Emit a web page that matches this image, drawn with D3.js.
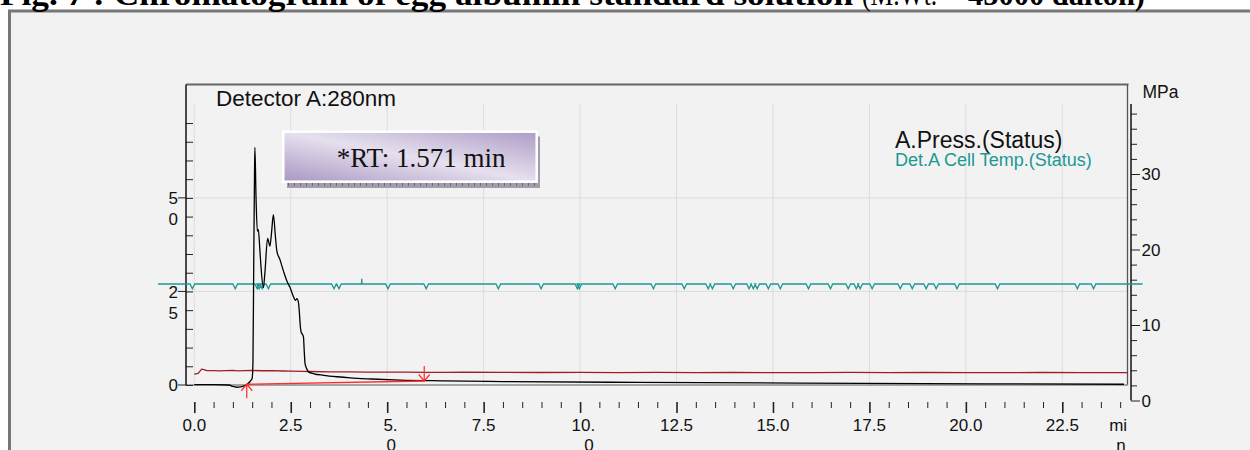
<!DOCTYPE html>
<html>
<head>
<meta charset="utf-8">
<script src="https://cdn.jsdelivr.net/npm/d3@7"></script>
<style>
  body { margin: 0; background: #fff; }
  svg { display: block; }
  text { font-family: "Liberation Sans", Arial, sans-serif; }
</style>
</head>
<body>
<div id="chart"></div>
<script>
// ===== 데이터 =====
// 제목 (굵게 / 보통 / 굵게)
const titleParts = ['Fig. 7 : Chromatogram of egg albumin standard solution', '(M.Wt. =', '45000 dalton)'];
const titleWeights = ['bold', 'normal', 'bold'];

// 검출기 신호 (min, mV)
const detTime = [0.0, 0.5, 0.9, 1.0, 1.1, 1.2, 1.3, 1.36, 1.45, 1.5, 1.52, 1.54, 1.56, 1.571, 1.60, 1.634, 1.66,
  1.70, 1.73, 1.79, 1.83, 1.90, 1.96, 2.00, 2.05, 2.10, 2.14, 2.22, 2.31, 2.40, 2.48, 2.57, 2.62, 2.66, 2.70,
  2.72, 2.75, 2.77, 2.80, 2.83, 2.85, 2.87, 2.92, 2.96, 3.10, 3.35, 3.70, 4.04, 4.60, 5.33, 6.50, 8.0, 11.5,
  15.7, 20.5, 24.1];
const detMv = [0.1, 0.1, 0.0, -0.4, -0.6, -0.5, -0.2, 0.1, 1.0, 1.8, 6, 32, 56, 63.5, 50, 41.1, 41.5,
  36, 31.4, 26.0, 30, 39.2, 37.1, 40.5, 45.5, 40, 35.8, 33.5, 30.5, 27.8, 26.1, 23.6, 22.6, 23.1, 22.0,
  19.9, 15.5, 14.1, 13.6, 12.8, 9.0, 5.8, 4.2, 3.5, 3.0, 2.6, 2.2, 1.9, 1.6, 1.3, 1.1, 0.9, 0.7,
  0.5, 0.3, 0.2];

// 압력 (min, MPa)
const pressTime = [0.0, 0.1, 0.19, 0.25, 0.32, 0.5, 0.65, 0.8, 1.0, 1.15, 1.3, 1.5, 1.75, 2.0, 2.3, 2.5, 2.8,
  3.0, 3.5, 4.0, 4.5, 5.0, 5.5, 6.0, 6.5, 7.0, 8.0, 9.0, 10.0, 11.0, 12.0, 13.0, 14.0, 15.0, 16.0, 17.0,
  18.0, 19.0, 20.0, 21.0, 22.0, 23.0, 24.19];
const pressMpa = [3.5, 3.6, 4.15, 4.1, 3.95, 3.97, 3.92, 3.96, 3.98, 3.93, 3.97, 3.98, 3.94, 3.95, 3.91, 3.9, 3.86,
  3.84, 3.8, 3.78, 3.77, 3.75, 3.76, 3.73, 3.72, 3.74, 3.73, 3.71, 3.72, 3.7, 3.72, 3.7, 3.71, 3.69, 3.7, 3.72,
  3.7, 3.71, 3.7, 3.69, 3.71, 3.7, 3.7];

// 셀 온도 (오른쪽 축 기준) 와 스파이크 위치 (min)
const tempRange = [-0.94, 24.58];
const tempLevel = 15.43;
const tempSpikesDown = [-0.05, 1.06, 1.63, 1.68, 1.76, 1.92, 3.62, 3.75, 5.02, 6.01, 7.88, 8.99, 9.93, 9.98,
  10.91, 11.9, 12.7, 13.32, 13.43, 13.97, 14.38, 14.49, 14.59, 14.88, 15.19, 15.92, 16.49, 16.95, 17.16,
  17.26, 17.57, 18.3, 18.61, 18.97, 19.23, 19.77, 20.82, 22.89, 23.31];
const tempSpikesUp = [4.34];

// 적분 베이스라인 (min, mV)
const integStart = [1.36, 0.2];
const integEnd = [5.96, 1.07];
const peakRT = '*RT: 1.571 min';

// 축 눈금
const xMajorTicks = [0, 2.5, 5, 7.5, 10, 12.5, 15, 17.5, 20, 22.5];
const xTickLabels = ['0.0', '2.5', '5.\n0', '7.5', '10.\n0', '12.5', '15.0', '17.5', '20.0', '22.5'];
const xUnitLabel = 'mi\nn';
const leftLabelValues = [0, 25, 50];
const leftLabelText = ['0', '2\n5', '5\n0'];
const rightLabelValues = [0, 10, 20, 30];
const detectorLabel = 'Detector A:280nm';
const legendLabels = ['A.Press.(Status)', 'Det.A Cell Temp.(Status)'];

// ===== 렌더링 =====
const W = 1250, H = 450;
const svg = d3.select('#chart').append('svg').attr('width', W).attr('height', H);
const defs = svg.append('defs');

// 상자 그라디언트
const grad = defs.append('linearGradient').attr('id', 'rtGrad')
  .attr('x1', '0').attr('y1', '1').attr('x2', '1').attr('y2', '0');
grad.append('stop').attr('offset', '0%').attr('stop-color', '#a996c2');
grad.append('stop').attr('offset', '50%').attr('stop-color', '#e6e0ee');
grad.append('stop').attr('offset', '100%').attr('stop-color', '#ad9cc6');

// 그림자 패턴
const pat = defs.append('pattern').attr('id', 'shadowPat').attr('patternUnits', 'userSpaceOnUse')
  .attr('width', 6).attr('height', 7);
pat.append('rect').attr('width', 6).attr('height', 7).attr('fill', '#a39caa');
pat.append('line').attr('x1', 0.5).attr('x2', 0.5).attr('y1', 0).attr('y2', 4).attr('stroke', '#6e6774');

// 바깥 프레임
svg.append('rect').attr('x', 9.5).attr('y', 11).attr('width', W).attr('height', H)
  .attr('fill', '#f2f2f2').attr('stroke', '#777').attr('stroke-width', 3);

// 제목 (위쪽이 잘려 보임)
const title = svg.append('text').attr('y', 4.5)
  .style('font-family', '"Liberation Serif", "Times New Roman", serif').attr('font-size', 32).attr('fill', '#000');
title.append('tspan').attr('x', 0).attr('font-weight', titleWeights[0])
  .attr('textLength', 853).attr('lengthAdjust', 'spacingAndGlyphs').text(titleParts[0]);
title.append('tspan').attr('x', 862).attr('font-weight', titleWeights[1])
  .attr('textLength', 96).attr('lengthAdjust', 'spacingAndGlyphs').text(titleParts[1]);
title.append('tspan').attr('x', 968).attr('font-weight', titleWeights[2])
  .attr('textLength', 177).attr('lengthAdjust', 'spacingAndGlyphs').text(titleParts[2]);

// 스케일
const x = d3.scaleLinear().domain([-0.2153, 24.19]).range([186, 1127.5]);
const yL = d3.scaleLinear().domain([0, 80.3]).range([385, 84.5]);
const yR = d3.scaleLinear().domain([0, 40]).range([400.5, 98.5]);

const gridTop = 104;

// 그리드
svg.append('g').selectAll('line').data(xMajorTicks).enter().append('line')
  .attr('x1', d => x(d)).attr('x2', d => x(d)).attr('y1', gridTop).attr('y2', yL(0))
  .attr('stroke', '#dcdcdc').attr('stroke-width', 1);
svg.append('g').selectAll('line').data([25, 50]).enter().append('line')
  .attr('x1', x.range()[0]).attr('x2', x.range()[1]).attr('y1', d => yL(d)).attr('y2', d => yL(d))
  .attr('stroke', '#dcdcdc').attr('stroke-width', 1);

// 플롯 테두리
svg.append('line').attr('x1', 186).attr('x2', 1128.5).attr('y1', 84.5).attr('y2', 84.5)
  .attr('stroke', '#666').attr('stroke-width', 2);
svg.append('line').attr('x1', 1127.5).attr('x2', 1127.5).attr('y1', 84.5).attr('y2', 385)
  .attr('stroke', '#555').attr('stroke-width', 1.3);
svg.append('line').attr('x1', 186).attr('x2', 1128).attr('y1', 385).attr('y2', 385)
  .attr('stroke', '#8a8a8a').attr('stroke-width', 1.5);

// 왼쪽 축 (안쪽 작은 눈금)
const leftAxis = svg.append('g').attr('transform', 'translate(186,0)')
  .call(d3.axisLeft(yL).tickValues(d3.range(0, 71, 5)).tickSize(-7).tickSizeOuter(0).tickFormat(''));
leftAxis.select('.domain').remove();
leftAxis.selectAll('.tick line').attr('stroke', '#222');
svg.append('line').attr('x1', 186).attr('x2', 186).attr('y1', 84.5).attr('y2', 385)
  .attr('stroke', '#111').attr('stroke-width', 1.5);
// 라벨 눈금 (바깥)
leftLabelValues.forEach((v, i) => {
  svg.append('line').attr('x1', 178).attr('x2', 186).attr('y1', yL(v)).attr('y2', yL(v)).attr('stroke', '#222');
  leftLabelText[i].split('\n').forEach((s, j) => {
    svg.append('text').attr('x', 178).attr('y', yL(v) + j * 21).attr('dy', '0.36em')
      .attr('text-anchor', 'end').attr('font-size', 17).attr('fill', '#111').text(s);
  });
});

// 아래쪽 x축 눈금
const isMajor = d => Math.abs(d / 2.5 - Math.round(d / 2.5)) < 1e-6;
const xAxis = svg.append('g').attr('transform', 'translate(0,402)')
  .call(d3.axisBottom(x).tickValues(d3.range(0, 24.01, 0.5)).tickSize(6).tickSizeOuter(0).tickFormat(''));
xAxis.select('.domain').remove();
xAxis.selectAll('.tick line').attr('stroke', '#222')
  .attr('y1', 0).attr('y2', d => (isMajor(d) ? 11 : 6))
  .attr('stroke-width', d => (isMajor(d) ? 1.6 : 1));

function drawWrapped(label, cx) {
  const lines = label.split('\n');
  const first = svg.append('text').attr('x', cx).attr('y', 431).attr('text-anchor', 'middle')
    .attr('font-size', 17).attr('fill', '#111').text(lines[0]);
  if (lines.length > 1) {
    const w = first.node().getComputedTextLength();
    svg.append('text').attr('x', cx + w / 2 - 1.5).attr('y', 451).attr('text-anchor', 'end')
      .attr('font-size', 17).attr('fill', '#111').text(lines[1]);
  }
}
xMajorTicks.forEach((v, i) => {
  const wrapped = xTickLabels[i].includes('\n');
  drawWrapped(xTickLabels[i], x(v) + (wrapped ? 3.3 : 0));
});
drawWrapped(xUnitLabel, x(24) - 2);

// 오른쪽 축 (MPa)
const rightAxis = svg.append('g').attr('transform', 'translate(1131,0)')
  .call(d3.axisRight(yR).tickValues(d3.range(0, 39, 2)).tickSize(6).tickSizeOuter(0).tickFormat(''));
rightAxis.select('.domain').remove();
rightAxis.selectAll('.tick line').attr('stroke', '#222').attr('x2', d => (d % 10 === 0 ? 9 : 6));
svg.append('line').attr('x1', 1131).attr('x2', 1131).attr('y1', gridTop).attr('y2', yR(0))
  .attr('stroke', '#111').attr('stroke-width', 1.5);
svg.append('g').selectAll('text').data(rightLabelValues).enter().append('text')
  .attr('x', 1141.5).attr('y', d => yR(d)).attr('dy', '0.36em')
  .attr('font-size', 17).attr('fill', '#111').text(d => d);
svg.append('text').attr('x', 1142.5).attr('y', 97.5).attr('font-size', 17.5).attr('fill', '#111').text('MPa');

// 압력 곡선 (진한 빨강)
const pressLine = d3.line().x(d => x(d[0])).y(d => yR(d[1]));
svg.append('path').datum(pressTime.map((t, i) => [t, pressMpa[i]]))
  .attr('d', pressLine).attr('fill', 'none').attr('stroke', '#9c1f25').attr('stroke-width', 1.3);

// 온도 곡선 (청록) - 스파이크 포함
const tempPts = [[tempRange[0], tempLevel]];
const spikes = tempSpikesDown.map(t => [t, -0.62]).concat(tempSpikesUp.map(t => [t, 0.7]))
  .sort((a, b) => a[0] - b[0]);
spikes.forEach(([t, dv]) => {
  const hw = dv > 0 ? 0.005 : 0.06;
  tempPts.push([t - hw, tempLevel], [t, tempLevel + dv], [t + hw, tempLevel]);
});
tempPts.push([tempRange[1], tempLevel]);
svg.append('path').datum(tempPts).attr('d', pressLine)
  .attr('fill', 'none').attr('stroke', '#1c9894').attr('stroke-width', 1.3);

// 검출기 신호 (검정)
const detLine = d3.line().x(d => x(d[0])).y(d => yL(d[1])).curve(d3.curveMonotoneX);
svg.append('path').datum(detTime.map((t, i) => [t, detMv[i]]))
  .attr('d', detLine).attr('fill', 'none').attr('stroke', '#000').attr('stroke-width', 1.3);

// 적분 베이스라인과 화살표 (빨강)
const red = '#ff2a2a';
svg.append('line').attr('x1', x(integStart[0])).attr('y1', yL(integStart[1]))
  .attr('x2', x(integEnd[0])).attr('y2', yL(integEnd[1])).attr('stroke', red).attr('stroke-width', 1.3);
const ax1 = x(integStart[0]), ay1 = yL(integStart[1]);
svg.append('path').attr('d', `M${ax1},${ay1 + 14}L${ax1},${ay1}M${ax1 - 5.5},${ay1 + 6.5}L${ax1},${ay1}L${ax1 + 5.5},${ay1 + 6.5}`)
  .attr('fill', 'none').attr('stroke', red).attr('stroke-width', 1.2);
const ax2 = x(integEnd[0]), ay2 = yL(integEnd[1]);
svg.append('path').attr('d', `M${ax2},${ay2 - 15}L${ax2},${ay2}M${ax2 - 5.5},${ay2 - 6.5}L${ax2},${ay2}L${ax2 + 5.5},${ay2 - 6.5}`)
  .attr('fill', 'none').attr('stroke', red).attr('stroke-width', 1.2);

// 라벨
svg.append('text').attr('x', 216).attr('y', 106).attr('font-size', 22.5).attr('fill', '#111').text(detectorLabel);
svg.append('text').attr('x', 895).attr('y', 148).attr('font-size', 23).attr('fill', '#111').text(legendLabels[0]);
svg.append('text').attr('x', 895).attr('y', 165.5).attr('font-size', 18).attr('fill', '#1c9894').text(legendLabels[1]);

// RT 상자
svg.append('rect').attr('x', 287).attr('y', 136.5).attr('width', 253).attr('height', 51.5).attr('fill', 'url(#shadowPat)');
svg.append('rect').attr('x', 283.3).attr('y', 131.7).attr('width', 253.4).attr('height', 50)
  .attr('fill', 'url(#rtGrad)').attr('stroke', '#fff').attr('stroke-width', 2.5);
svg.append('text').attr('x', 336.7).attr('y', 167.3)
  .style('font-family', '"Liberation Serif", "Times New Roman", serif')
  .attr('font-size', 27).attr('fill', '#111').text(peakRT);
</script>
</body>
</html>
